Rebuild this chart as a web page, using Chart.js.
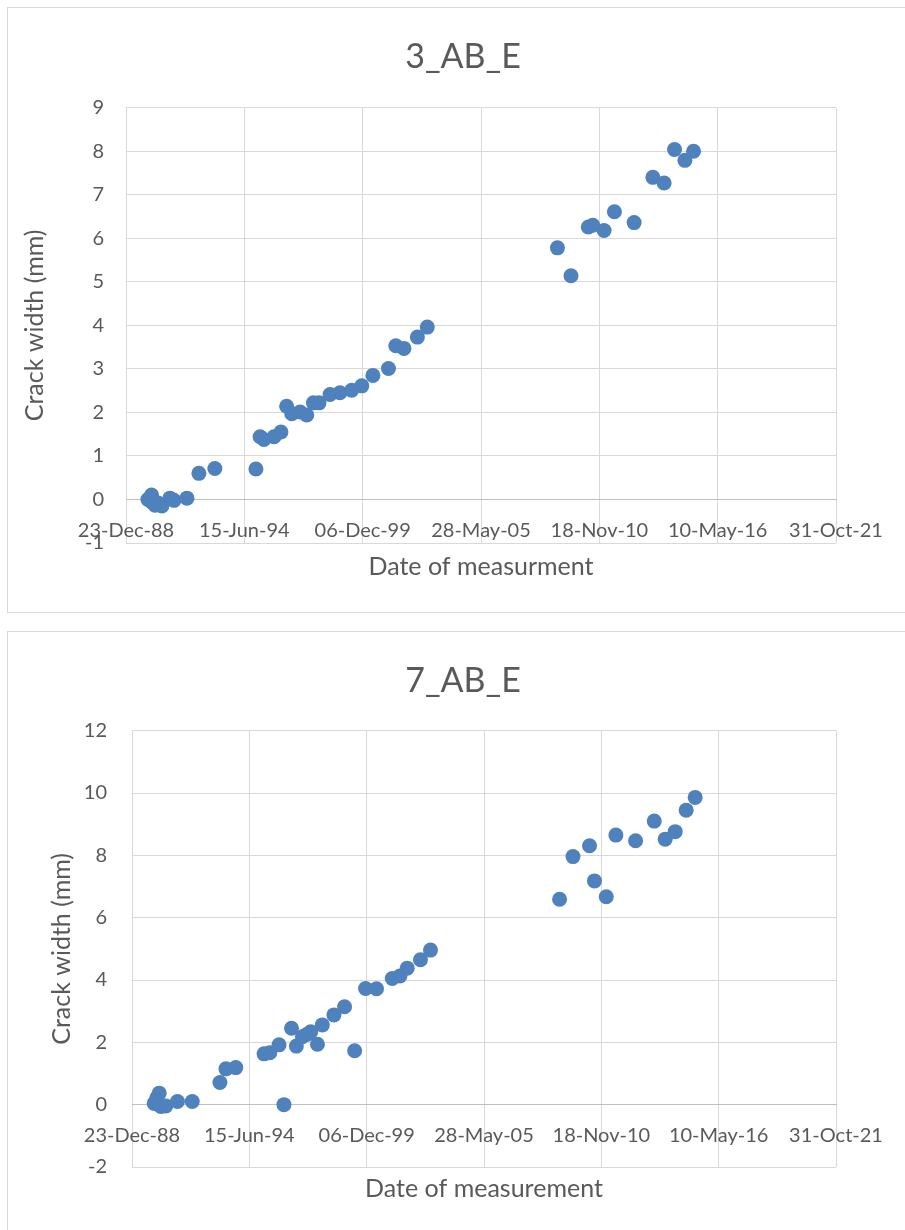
<!DOCTYPE html>
<html>
<head>
<meta charset="utf-8">
<title>Crack width</title>
<script src="https://cdn.jsdelivr.net/npm/chart.js@4.4.1/dist/chart.umd.min.js"></script>
<style>
  html, body { margin: 0; padding: 0; background: #fff; overflow: hidden; }
  body { width: 905px; height: 1230px; position: relative; }
  .box { position: absolute; border: 1px solid #d9d9d9; background: #fff; }
  #box1 { left: 7px; top: 7px; width: 930px; height: 604px; }
  #box2 { left: 7px; top: 631px; width: 930px; height: 640px; }
  canvas { position: absolute; }
  #chart1 { left: 8px; top: 8px; }
  #chart2 { left: 8px; top: 632px; }
</style>
</head>
<body>
<div class="box" id="box1"></div>
<div class="box" id="box2"></div>
<canvas id="chart1" width="910" height="604"></canvas>
<canvas id="chart2" width="910" height="598"></canvas>
<script>
const dates3 = [
    '1989-12-28', '1990-02-28', '1990-03-06', '1990-04-27', '1990-06-18', '1990-08-22',
    '1991-01-04', '1991-03-14', '1991-10-19', '1992-05-08', '1993-02-02', '1994-12-28',
    '1995-03-08', '1995-05-12', '1995-10-30', '1996-02-24', '1996-05-30', '1996-08-25',
    '1997-01-12', '1997-05-05', '1997-08-26', '1997-11-28', '1998-06-03', '1998-11-17',
    '1999-06-03', '1999-11-21', '2000-05-27', '2001-02-14', '2001-06-18', '2001-11-03',
    '2002-06-18', '2002-12-02', '2008-12-10', '2009-07-27', '2010-05-16', '2010-07-31',
    '2011-02-06', '2011-07-31', '2012-06-28', '2013-05-11', '2013-11-17', '2014-05-12',
    '2014-11-03', '2015-03-29'
];
const width3 = [
    0.00, 0.10, -0.06, -0.13, -0.08, -0.15,
    0.03, -0.02, 0.03, 0.60, 0.71, 0.70,
    1.44, 1.38, 1.44, 1.55, 2.14, 1.97,
    2.01, 1.94, 2.22, 2.22, 2.41, 2.45,
    2.51, 2.61, 2.85, 3.01, 3.53, 3.47,
    3.73, 3.96, 5.78, 5.14, 6.26, 6.30,
    6.18, 6.61, 6.36, 7.40, 7.27, 8.04,
    7.79, 8.00
];

const dates7 = [
    '1990-01-05', '1990-02-20', '1990-04-01', '1990-04-28', '1990-07-22', '1991-02-06',
    '1991-10-16', '1993-01-30', '1993-05-12', '1993-10-27', '1995-02-21', '1995-05-30',
    '1995-11-03', '1996-01-26', '1996-06-03', '1996-08-25', '1996-12-06', '1997-02-17',
    '1997-04-27', '1997-08-19', '1997-11-10', '1998-05-27', '1998-11-24', '1999-05-15',
    '1999-11-17', '2000-05-22', '2001-02-14', '2001-06-25', '2001-10-27', '2002-06-10',
    '2002-11-28', '2008-12-06', '2009-07-23', '2010-05-01', '2010-07-24', '2011-02-10',
    '2011-07-24', '2012-06-24', '2013-05-08', '2013-11-10', '2014-04-30', '2014-11-03',
    '2015-04-05'
];
const width7 = [
    0.04, 0.22, 0.37, -0.06, -0.04, 0.10,
    0.10, 0.71, 1.15, 1.19, 1.63, 1.67,
    1.92, 0.00, 2.45, 1.88, 2.18, 2.25,
    2.34, 1.94, 2.56, 2.88, 3.14, 1.73,
    3.73, 3.72, 4.05, 4.13, 4.38, 4.65,
    4.96, 6.59, 7.96, 8.31, 7.18, 6.67,
    8.65, 8.47, 9.10, 8.52, 8.76, 9.45,
    9.86
];

// Axis ticks (Excel date serials) shared by both charts
const dateMin = 32500;   // 23-Dec-88
const dateMax = 44500;   // 31-Oct-21
const dateStep = 2000;

const months = ['Jan', 'Feb', 'Mar', 'Apr', 'May', 'Jun', 'Jul', 'Aug', 'Sep', 'Oct', 'Nov', 'Dec'];
const excelEpoch = Date.UTC(1899, 11, 30);
const dayMs = 86400000;

function toSerial(str) {
    const [y, m, d] = str.split('-').map(Number);
    return (Date.UTC(y, m - 1, d) - excelEpoch) / dayMs;
}

function serialLabel(serial) {
    const d = new Date(excelEpoch + serial * dayMs);
    const dd = String(d.getUTCDate()).padStart(2, '0');
    const yy = String(d.getUTCFullYear() % 100).padStart(2, '0');
    return dd + '-' + months[d.getUTCMonth()] + '-' + yy;
}

const textColor = '#595959';
const gridColor = '#d9d9d9';
const fontFamily = 'Lato, "Open Sans", sans-serif';

function makeChart(canvasId, cfg) {
    const points = cfg.dates.map((d, i) => ({ x: toSerial(d), y: cfg.values[i] }));
    return new Chart(document.getElementById(canvasId), {
        type: 'scatter',
        data: {
            datasets: [{
                data: points,
                backgroundColor: '#4f81bd',
                borderWidth: 0,
                pointRadius: 7.5,
                pointHoverRadius: 7.5
            }]
        },
        options: {
            responsive: false,
            animation: false,
            events: [],
            layout: { padding: { left: 0, right: 0, top: 0, bottom: cfg.padBottom } },
            plugins: {
                legend: { display: false },
                tooltip: { enabled: false },
                title: {
                    display: true,
                    text: cfg.title,
                    color: textColor,
                    font: { family: fontFamily, size: 34, weight: 'normal' },
                    padding: { top: cfg.titleTop, bottom: cfg.titleBottom }
                }
            },
            scales: {
                x: {
                    type: 'linear',
                    position: { y: 0 },
                    min: dateMin,
                    max: dateMax,
                    grid: { color: gridColor, drawTicks: false },
                    border: { display: true, color: '#bfbfbf', width: 1 },
                    ticks: {
                        stepSize: dateStep,
                        autoSkip: false,
                        maxRotation: 0,
                        padding: 19,
                        color: textColor,
                        font: { family: fontFamily, size: 20 },
                        callback: v => serialLabel(v)
                    },
                    title: {
                        display: true,
                        text: cfg.xTitle,
                        color: textColor,
                        font: { family: fontFamily, size: 25 },
                        padding: 0
                    },
                    afterFit: s => {
                        s.height = cfg.xHeight;
                        s.paddingLeft = 0;
                        s.paddingRight = 82;
                        s.paddingTop = 0;
                        s.paddingBottom = 0;
                    }
                },
                y: {
                    min: cfg.yMin,
                    max: cfg.yMax,
                    grid: { color: gridColor, drawTicks: false },
                    border: { display: false },
                    ticks: {
                        stepSize: cfg.yStep,
                        padding: cfg.yTickPad,
                        color: textColor,
                        font: { family: fontFamily, size: 20 }
                    },
                    title: {
                        display: true,
                        text: 'Crack width (mm)',
                        color: textColor,
                        font: { family: fontFamily, size: 25 },
                        padding: { top: cfg.yTitlePad, bottom: 0 }
                    },
                    afterFit: s => {
                        s.width = cfg.yWidth;
                        s.paddingTop = 0;
                        s.paddingBottom = 0;
                    }
                }
            }
        }
    });
}

makeChart('chart1', {
    title: '3_AB_E',
    xTitle: 'Date of measurment',
    dates: dates3,
    values: width3,
    yMin: -1, yMax: 9, yStep: 1,
    yWidth: 118, yTickPad: 22, yTitlePad: 12,
    titleTop: 28.6, titleBottom: 30.3,
    padBottom: 69, xHeight: 82
});

makeChart('chart2', {
    title: '7_AB_E',
    xTitle: 'Date of measurement',
    dates: dates7,
    values: width7,
    yMin: -2, yMax: 12, yStep: 2,
    yWidth: 124, yTickPad: 25, yTitlePad: 39,
    titleTop: 28.6, titleBottom: 29.3,
    padBottom: 63, xHeight: 99
});
</script>
</body>
</html>
